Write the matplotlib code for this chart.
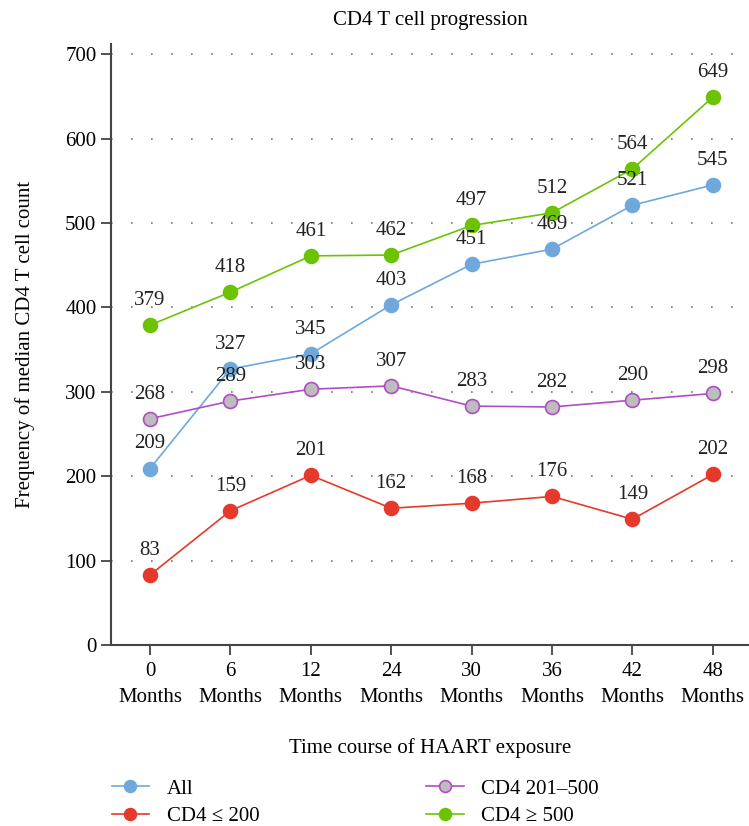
import matplotlib
matplotlib.use('Agg')
import matplotlib.pyplot as plt

months = ['0', '6', '12', '24', '30', '36', '42', '48']
all_cd4 = [209, 327, 345, 403, 451, 469, 521, 545]
cd4_low = [83, 159, 201, 162, 168, 176, 149, 202]
cd4_mid = [268, 289, 303, 307, 283, 282, 290, 298]
cd4_high = [379, 418, 461, 462, 497, 512, 564, 649]

plt.rcParams['font.family'] = ['Liberation Serif', 'DejaVu Serif']
fs = 15

fig = plt.figure(figsize=(7.49, 8.26), dpi=100)
ax = fig.add_axes([111 / 749, 1 - 645 / 826, 638 / 749, (645 - 44) / 826])

x = list(range(len(months)))
series = [
    ('All', all_cd4, '#6fa8dc', '#6fa8dc'),
    ('CD4 \u2264 200', cd4_low, '#e5392b', '#e5392b'),
    ('CD4 201\u2013500', cd4_mid, '#b04cc4', '#bdbdbd'),
    ('CD4 \u2265 500', cd4_high, '#6cc304', '#6cc304'),
]
handles = []
for name, vals, col, face in series:
    h, = ax.plot(x, vals, color=col, lw=1.2, marker='o', markersize=10,
                 markerfacecolor=face, markeredgecolor=col, markeredgewidth=1.2,
                 label=name, zorder=3)
    handles.append(h)
    for xi, v in zip(x, vals):
        ax.annotate(str(v), (xi, v), xytext=(0, 11), textcoords='offset points',
                    ha='center', va='bottom', fontsize=fs, color='#222222', zorder=4)

ax.set_xlim(-0.485, 7.45)
ax.set_ylim(0, 712)
ax.set_yticks(range(0, 701, 100))
ax.set_xticks(x)
ax.set_xticklabels([m + '\nMonths' for m in months], linespacing=1.55)
for sp in ['top', 'right']:
    ax.spines[sp].set_visible(False)
for sp in ['left', 'bottom']:
    ax.spines[sp].set_linewidth(1.5)
    ax.spines[sp].set_color('#444444')
ax.tick_params(direction='out', length=7, width=1.3, color='#444444', labelsize=fs)
ax.tick_params(axis='x', pad=5)
ax.yaxis.grid(True, linestyle=(0, (1, 11)), color='#777777', lw=1.2)
ax.set_axisbelow(True)

ax.set_title('CD4 T cell progression', fontsize=fs, pad=14)
ax.set_ylabel('Frequency of median CD4 T cell count', fontsize=fs, labelpad=22)
ax.set_xlabel('Time course of HAART exposure', fontsize=fs, labelpad=22)

fig.legend(handles=handles, ncol=2, loc='upper left', bbox_to_anchor=(0.138, 0.067),
           frameon=False, fontsize=fs, handlelength=1.8, handletextpad=0.85,
           columnspacing=8.0, labelspacing=0.4, borderaxespad=0, markerscale=0.85)

fig.savefig('out.png', dpi=100)
